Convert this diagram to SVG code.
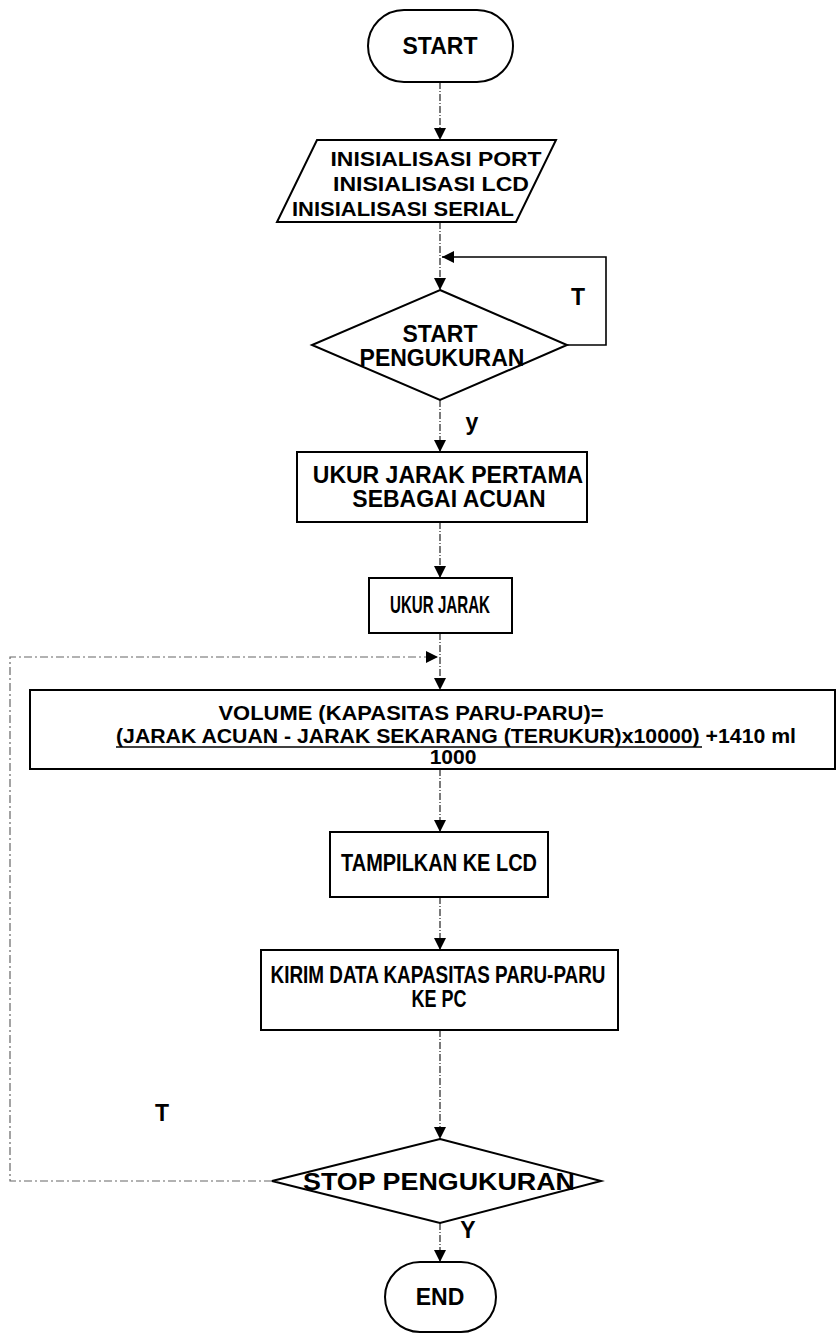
<svg xmlns="http://www.w3.org/2000/svg" width="837" height="1338" viewBox="0 0 837 1338">
<defs>
<style>
.shape{fill:#fff;stroke:#000;stroke-width:2}
.t{font-family:"Liberation Sans",Arial,sans-serif;font-weight:bold;font-size:23px;fill:#000;text-anchor:middle}
.v{font-size:21px}
.c{fill:none;stroke:#333;stroke-width:1.3;stroke-dasharray:7 2 1 2}
.s{fill:none;stroke:#000;stroke-width:1.6}
.d{fill:none;stroke:#666;stroke-width:1.2;stroke-dasharray:8 3 2 3}
</style>
<marker id="ah" viewBox="0 0 12 12" refX="12" refY="6" markerWidth="12" markerHeight="12" markerUnits="userSpaceOnUse" orient="auto">
<path d="M0,0 L12,6 L0,12 z" fill="#000"/>
</marker>
</defs>
<rect width="837" height="1338" fill="#fff"/>

<g id="connectors">
<line class="c" x1="440" y1="82" x2="440" y2="140" marker-end="url(#ah)"/>
<line class="c" x1="440" y1="222" x2="440" y2="290" marker-end="url(#ah)"/>
<polyline class="s" points="567,345 606,345 606,257 442,257" marker-end="url(#ah)"/>
<line class="c" x1="440" y1="400" x2="440" y2="452" marker-end="url(#ah)"/>
<line class="c" x1="440" y1="522" x2="440" y2="578" marker-end="url(#ah)"/>
<line class="c" x1="440" y1="633" x2="440" y2="690" marker-end="url(#ah)"/>
<polyline class="d" points="272,1181 10,1181 10,657 438,657" marker-end="url(#ah)"/>
<line class="c" x1="440" y1="769" x2="440" y2="832" marker-end="url(#ah)"/>
<line class="c" x1="440" y1="897" x2="440" y2="950" marker-end="url(#ah)"/>
<line class="c" x1="440" y1="1030" x2="440" y2="1139" marker-end="url(#ah)"/>
<line class="c" x1="440" y1="1223" x2="440" y2="1262" marker-end="url(#ah)"/>
<text class="t" x="578" y="305">T</text>
<text class="t" x="472" y="430">y</text>
<text class="t" x="162" y="1121">T</text>
<text class="t" x="468" y="1238">Y</text>
</g>

<g id="start">
<rect class="shape" x="368" y="10" width="145" height="72" rx="36" ry="36"/>
<text class="t" x="440" y="54">START</text>
</g>

<g id="init">
<polygon class="shape" points="317,140 556,140 516,222 277,222"/>
<text class="t" x="436" y="166" style="font-size:21px" textLength="211" lengthAdjust="spacingAndGlyphs">INISIALISASI PORT</text>
<text class="t" x="431" y="191" style="font-size:21px" textLength="196" lengthAdjust="spacingAndGlyphs">INISIALISASI LCD</text>
<text class="t" x="403" y="216" style="font-size:21px" textLength="222" lengthAdjust="spacingAndGlyphs">INISIALISASI SERIAL</text>
</g>

<g id="decision-start">
<polygon class="shape" points="440,290 567,345 440,400 312,345"/>
<text class="t" x="440" y="342">START</text>
<text class="t" x="442" y="366">PENGUKURAN</text>
</g>

<g id="ukur-acuan">
<rect class="shape" x="297" y="452" width="290" height="70"/>
<text class="t" x="448" y="483">UKUR JARAK PERTAMA</text>
<text class="t" x="449" y="507">SEBAGAI ACUAN</text>
</g>

<g id="ukur-jarak">
<rect class="shape" x="369" y="578" width="143" height="55"/>
<text class="t" x="440" y="613" textLength="100" lengthAdjust="spacingAndGlyphs">UKUR JARAK</text>
</g>

<g id="volume">
<rect class="shape" x="30" y="690" width="805" height="79"/>
<text class="t v" x="411" y="720" textLength="385" lengthAdjust="spacingAndGlyphs">VOLUME (KAPASITAS PARU-PARU)=</text>
<text class="t v" x="116" y="743" style="text-anchor:start" textLength="680" lengthAdjust="spacingAndGlyphs">(JARAK ACUAN - JARAK SEKARANG (TERUKUR)x10000) +1410 ml</text>
<line x1="116" y1="747" x2="702" y2="747" stroke="#000" stroke-width="1.6"/>
<text class="t v" x="453" y="764">1000</text>
</g>

<g id="tampilkan">
<rect class="shape" x="330" y="832" width="218" height="65"/>
<text class="t" x="439" y="871" textLength="196" lengthAdjust="spacingAndGlyphs">TAMPILKAN KE LCD</text>
</g>

<g id="kirim">
<rect class="shape" x="261" y="950" width="357" height="80"/>
<text class="t" x="438" y="983" textLength="335" lengthAdjust="spacingAndGlyphs">KIRIM DATA KAPASITAS PARU-PARU</text>
<text class="t" x="439" y="1007" textLength="55" lengthAdjust="spacingAndGlyphs">KE PC</text>
</g>

<g id="decision-stop">
<polygon class="shape" points="440,1139 601,1181 440,1223 272,1181"/>
<text class="t" x="439" y="1190" textLength="272" lengthAdjust="spacingAndGlyphs">STOP PENGUKURAN</text>
</g>

<g id="end">
<rect class="shape" x="385" y="1262" width="111" height="70" rx="35" ry="35"/>
<text class="t" x="440" y="1305">END</text>
</g>
</svg>
